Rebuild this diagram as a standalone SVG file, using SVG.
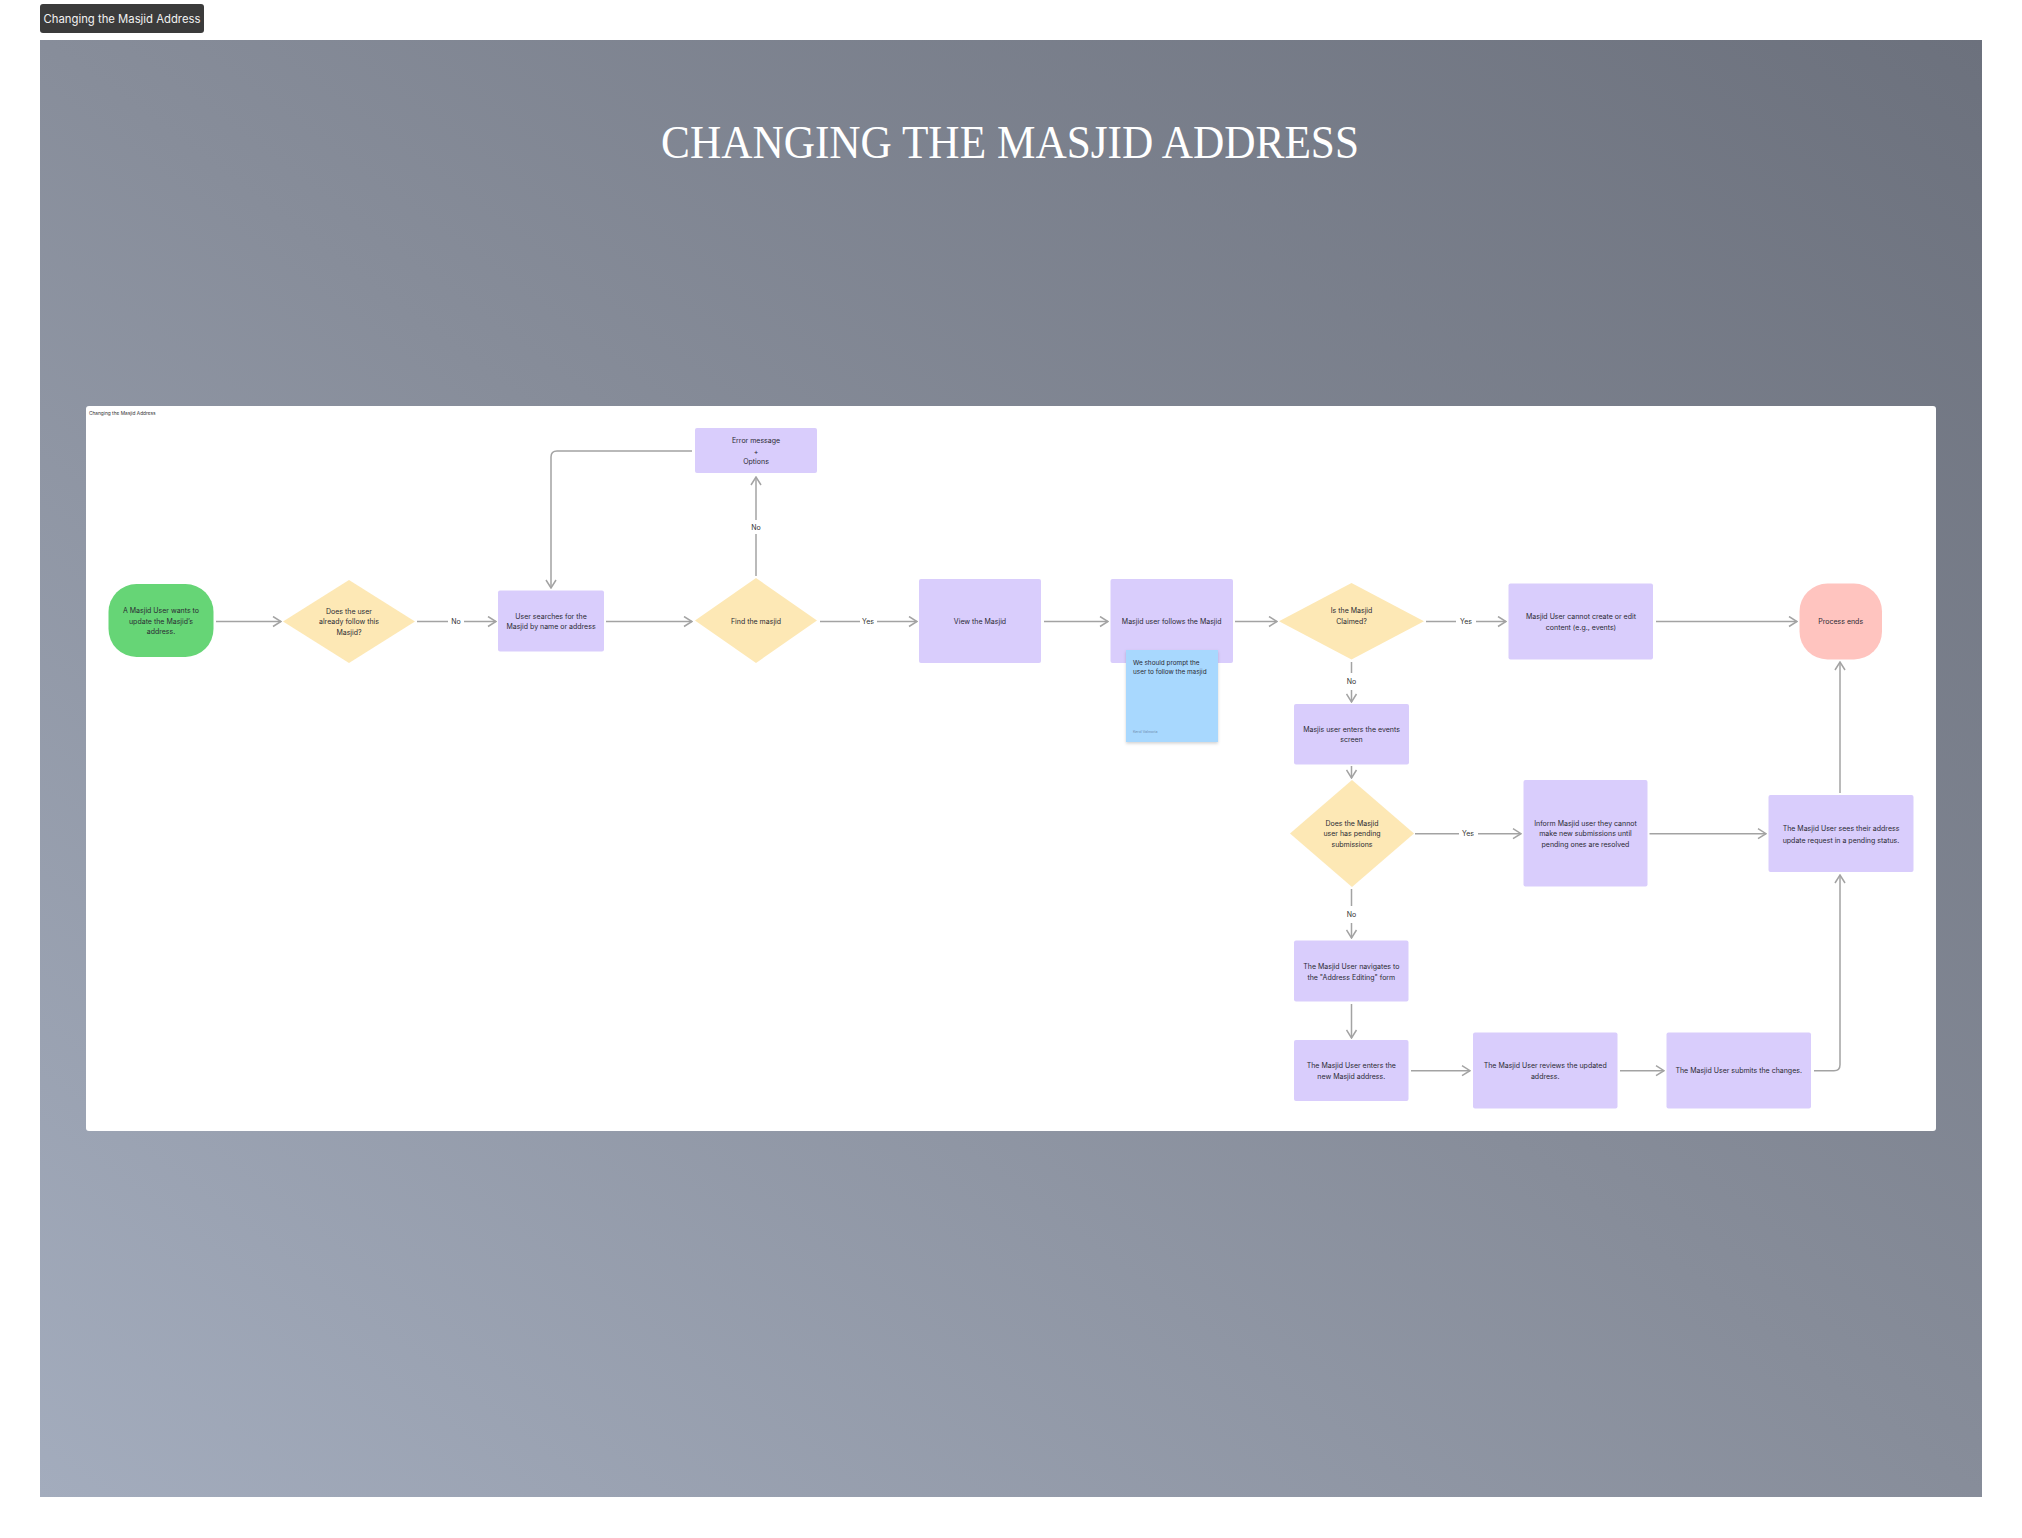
<svg xmlns="http://www.w3.org/2000/svg" width="2022" height="1538" viewBox="0 0 2022 1538">
<defs>
<linearGradient id="bg" x1="0" y1="1" x2="1" y2="0">
<stop offset="0" stop-color="#a3acbd"/>
<stop offset="0.5" stop-color="#878d9a"/>
<stop offset="1" stop-color="#6c717d"/>
</linearGradient>
<marker id="arr" viewBox="0 0 10 12" refX="9" refY="6" markerWidth="10" markerHeight="12" markerUnits="userSpaceOnUse" orient="auto">
<path d="M1,1 L9,6 L1,11" fill="none" stroke="#a3a3a3" stroke-width="1.5"/>
</marker>
<filter id="sh" x="-10%" y="-10%" width="130%" height="130%">
<feDropShadow dx="0" dy="1.5" stdDeviation="1.5" flood-color="#000" flood-opacity="0.18"/>
</filter>
</defs>
<style>
.t{font-family:Inter,"Liberation Sans",sans-serif;font-size:7px;fill:#2a2a33;text-anchor:middle}
.lbl{font-family:Inter,"Liberation Sans",sans-serif;font-size:7px;fill:#333;text-anchor:middle}
.box{fill:#d9cdfc}
.dia{fill:#fde8b5}
.c{fill:none;stroke:#a3a3a3;stroke-width:1.5}
.ca{fill:none;stroke:#a3a3a3;stroke-width:1.5;marker-end:url(#arr)}
</style>
<rect x="0" y="0" width="2022" height="1538" fill="#ffffff"/>
<rect x="40" y="40" width="1942" height="1457" fill="url(#bg)"/>
<g id="badge">
<rect x="40" y="4" width="164" height="29" rx="3" fill="#3b3b3b"/>
<text x="122" y="22.5" font-family="Inter,'Liberation Sans',sans-serif" font-size="11.3" fill="#f2f2f2" text-anchor="middle">Changing the Masjid Address</text>
</g>
<text id="title" x="1010" y="158" font-family="'Liberation Serif',serif" font-size="47" fill="#ffffff" text-anchor="middle" textLength="698" lengthAdjust="spacingAndGlyphs">CHANGING THE MASJID ADDRESS</text>
<g id="panel">
<rect x="86" y="406" width="1850" height="725" rx="3" fill="#ffffff"/>
<text x="89" y="414.5" font-family="Inter,'Liberation Sans',sans-serif" font-size="4.8" fill="#333">Changing the Masjid Address</text>
</g>
<g id="connectors">
<path class="ca" d="M216,621.5 H281"/>
<path class="c" d="M417,621.5 H448"/>
<text class="lbl" x="456" y="624">No</text>
<path class="ca" d="M464,621.5 H496"/>
<path class="ca" d="M606,621.5 H692"/>
<path class="c" d="M756,576 V534"/>
<text class="lbl" x="756" y="529.5">No</text>
<path class="ca" d="M756,520 V477"/>
<path class="ca" d="M692,451 H557 Q551,451 551,457 V588"/>
<path class="c" d="M820,621.5 H860"/>
<text class="lbl" x="868" y="624">Yes</text>
<path class="ca" d="M877,621.5 H917"/>
<path class="ca" d="M1044,621.5 H1108"/>
<path class="ca" d="M1235,621.5 H1277"/>
<path class="c" d="M1426,621.5 H1456"/>
<text class="lbl" x="1466" y="624">Yes</text>
<path class="ca" d="M1476,621.5 H1506"/>
<path class="c" d="M1351.5,662 V673"/>
<text class="lbl" x="1351.5" y="684">No</text>
<path class="ca" d="M1351.5,690 V702"/>
<path class="ca" d="M1656,621.5 H1797"/>
<path class="ca" d="M1351.5,766 V778"/>
<path class="c" d="M1415,833.7 H1459"/>
<text class="lbl" x="1468" y="836.2">Yes</text>
<path class="ca" d="M1478,833.7 H1521"/>
<path class="ca" d="M1649.5,833.7 H1766"/>
<path class="ca" d="M1840,793 V662"/>
<path class="c" d="M1351.5,889 V906"/>
<text class="lbl" x="1351.5" y="916.5">No</text>
<path class="ca" d="M1351.5,923 V938"/>
<path class="ca" d="M1351.5,1004 V1038"/>
<path class="ca" d="M1411,1070.7 H1470"/>
<path class="ca" d="M1620,1070.7 H1664"/>
<path class="ca" d="M1814,1070.7 H1834 Q1840,1070.7 1840,1064.7 V875"/>
</g>
<g id="start">
<rect x="108.5" y="584" width="105" height="73" rx="28" fill="#66d576"/>
<text class="t" x="161" y="613.3">A Masjid User wants to</text>
<text class="t" x="161" y="623.8">update the Masjid’s</text>
<text class="t" x="161" y="634.3">address.</text>
</g>
<g id="follow-check">
<polygon class="dia" points="349,580 415,621.5 349,663 283,621.5"/>
<text class="t" x="349" y="613.5">Does the user</text>
<text class="t" x="349" y="624">already follow this</text>
<text class="t" x="349" y="634.5">Masjid?</text>
</g>
<g id="search">
<rect class="box" x="498" y="590.5" width="106" height="61" rx="2"/>
<text class="t" x="551" y="618.8">User searches for the</text>
<text class="t" x="551" y="629.2">Masjid by name or address</text>
</g>
<g id="error">
<rect class="box" x="695" y="428" width="122" height="45" rx="2"/>
<text class="t" x="756" y="443.2">Error message</text>
<text class="t" x="756" y="453.8">+</text>
<text class="t" x="756" y="464.2">Options</text>
</g>
<g id="find">
<polygon class="dia" points="756,578 817,620.5 756,663 695,620.5"/>
<text class="t" x="756" y="624">Find the masjid</text>
</g>
<g id="view">
<rect class="box" x="919" y="579" width="122" height="84" rx="2"/>
<text class="t" x="980" y="624">View the Masjid</text>
</g>
<g id="follows">
<rect class="box" x="1110.5" y="579" width="122.5" height="84" rx="2"/>
<text class="t" x="1171.7" y="624">Masjid user follows the Masjid</text>
</g>
<g id="note">
<rect x="1126" y="650" width="92" height="92" fill="#a8d8fe" filter="url(#sh)"/>
<text x="1133" y="664.5" font-family="Inter,'Liberation Sans',sans-serif" font-size="6.4" fill="#2a2a33">We should prompt the</text>
<text x="1133" y="674" font-family="Inter,'Liberation Sans',sans-serif" font-size="6.4" fill="#2a2a33">user to follow the masjid</text>
<text x="1133" y="732.5" font-family="Inter,'Liberation Sans',sans-serif" font-size="3.6" fill="#6f8fb0">Kerol Valmoria</text>
</g>
<g id="claimed">
<polygon class="dia" points="1351.5,583 1424,621.3 1351.5,659.5 1279,621.3"/>
<text class="t" x="1351.5" y="613.3">Is the Masjid</text>
<text class="t" x="1351.5" y="624">Claimed?</text>
</g>
<g id="cannot">
<rect class="box" x="1508.5" y="583.5" width="144.5" height="76" rx="2"/>
<text class="t" x="1581" y="618.8">Masjid User cannot create or edit</text>
<text class="t" x="1581" y="629.5">content (e.g., events)</text>
</g>
<g id="end">
<rect x="1799.5" y="583.5" width="82.5" height="76" rx="28" fill="#ffc4bf"/>
<text class="t" x="1840.7" y="624">Process ends</text>
</g>
<g id="events">
<rect class="box" x="1294" y="704" width="115" height="60.5" rx="2"/>
<text class="t" x="1351.5" y="731.5">Masjis user enters the events</text>
<text class="t" x="1351.5" y="742">screen</text>
</g>
<g id="pending-check">
<polygon class="dia" points="1352,780 1414,833.5 1352,887 1290,833.5"/>
<text class="t" x="1352" y="825.5">Does the Masjid</text>
<text class="t" x="1352" y="836.2">user has pending</text>
<text class="t" x="1352" y="846.8">submissions</text>
</g>
<g id="inform">
<rect class="box" x="1523.5" y="780" width="124" height="106.5" rx="2"/>
<text class="t" x="1585.5" y="825.5">Inform Masjid user they cannot</text>
<text class="t" x="1585.5" y="836.2">make new submissions until</text>
<text class="t" x="1585.5" y="846.8">pending ones are resolved</text>
</g>
<g id="pending-status">
<rect class="box" x="1768.5" y="795" width="145" height="77" rx="2"/>
<text class="t" x="1841" y="830.8">The Masjid User sees their address</text>
<text class="t" x="1841" y="842.5">update request in a pending status.</text>
</g>
<g id="navigates">
<rect class="box" x="1294" y="940.5" width="114.5" height="61" rx="2"/>
<text class="t" x="1351.3" y="969.2">The Masjid User navigates to</text>
<text class="t" x="1351.3" y="979.5">the "Address Editing" form</text>
</g>
<g id="enters">
<rect class="box" x="1294" y="1040" width="114.5" height="61" rx="2"/>
<text class="t" x="1351.3" y="1068.2">The Masjid User enters the</text>
<text class="t" x="1351.3" y="1078.5">new Masjid address.</text>
</g>
<g id="reviews">
<rect class="box" x="1473" y="1032.5" width="144.5" height="76" rx="2"/>
<text class="t" x="1545.2" y="1068.2">The Masjid User reviews the updated</text>
<text class="t" x="1545.2" y="1078.5">address.</text>
</g>
<g id="submits">
<rect class="box" x="1666.5" y="1032.5" width="144.5" height="76" rx="2"/>
<text class="t" x="1738.7" y="1073.2">The Masjid User submits the changes.</text>
</g>
</svg>
